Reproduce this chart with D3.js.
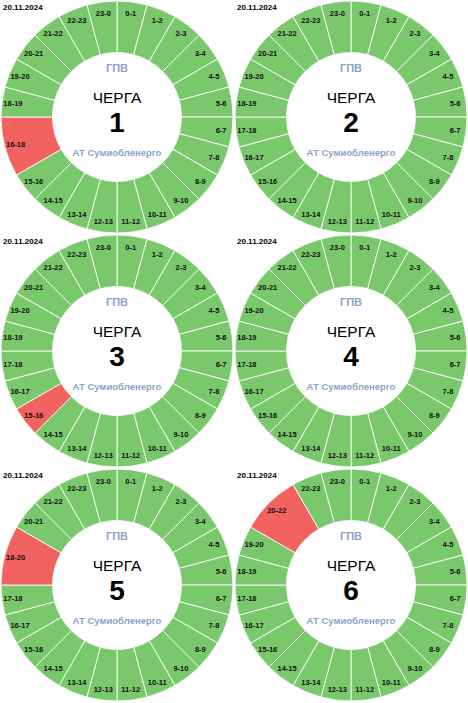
<!DOCTYPE html>
<html><head><meta charset="utf-8">
<script src="https://cdn.jsdelivr.net/npm/d3@7"></script>
<style>html,body{margin:0;padding:0;background:#fff;}svg{display:block;}</style>
</head><body>
<script>
const dateLabel = "20.11.2024";
const queues = [1, 2, 3, 4, 5, 6];
const outageStart = [16, null, 15, null, 18, 20];
const outageEnd = [18, null, 16, null, 20, 22];
const hours = d3.range(24);
const centerTop = "ГПВ";
const centerMid = "ЧЕРГА";
const centerBottom = "АТ Сумиобленерго";

const W = 468, H = 703, PW = 234, PH = 234;
const font = "'Liberation Sans', Arial, sans-serif";
const green = "#79c86b", red = "#f2625e";

function segmentsFor(i) {
  const segs = [];
  let h = 0;
  while (h < 24) {
    if (outageStart[i] !== null && h === outageStart[i]) {
      segs.push({from: h, to: outageEnd[i], off: true});
      h = outageEnd[i];
    } else {
      segs.push({from: h, to: h + 1, off: false});
      h += 1;
    }
  }
  return segs;
}

const svg = d3.select("body").append("svg").attr("width", W).attr("height", H);

const rOuter = 116, rInner = 64.5, rLabel = 105;
const pie = d3.pie().sort(null).value(d => d.to - d.from).startAngle(0).endAngle(2 * Math.PI);
const arc = d3.arc().innerRadius(rInner).outerRadius(rOuter);
const labelArc = d3.arc().innerRadius(rLabel).outerRadius(rLabel);

queues.forEach((q, i) => {
  const col = i % 2, row = Math.floor(i / 2);
  const g = svg.append("g").attr("transform", `translate(${col * PW},${row * PH})`);
  const c = g.append("g").attr("transform", `translate(117,117)`);
  const arcs = pie(segmentsFor(i));
  c.selectAll("path.seg").data(arcs).join("path")
    .attr("class", "seg")
    .attr("d", arc)
    .attr("fill", d => d.data.off ? red : green)
    .attr("stroke", "#fff").attr("stroke-opacity", 0.85).attr("stroke-width", 1);
  c.selectAll("text.lbl").data(arcs).join("text")
    .attr("class", "lbl")
    .attr("transform", d => `translate(${labelArc.centroid(d)})`)
    .attr("text-anchor", "middle").attr("dy", "0.35em")
    .attr("font-family", font).attr("font-size", 7.5).attr("font-weight", "bold")
    .attr("fill", "#111")
    .text(d => `${d.data.from}-${d.data.to % 24}`);
  c.append("text").attr("text-anchor", "middle").attr("y", -45)
    .attr("font-family", font).attr("font-size", 11).attr("font-weight", "bold")
    .attr("fill", "#8ea3c9").text(centerTop);
  c.append("text").attr("text-anchor", "middle").attr("y", -14)
    .attr("font-family", font).attr("font-size", 15.5)
    .attr("fill", "#000").text(centerMid);
  c.append("text").attr("text-anchor", "middle").attr("y", 15)
    .attr("font-family", font).attr("font-size", 28).attr("font-weight", "bold")
    .attr("fill", "#000").text(q);
  c.append("text").attr("text-anchor", "middle").attr("y", 39)
    .attr("font-family", font).attr("font-size", 9.5).attr("font-weight", "bold")
    .attr("fill", "#8ea3c9").text(centerBottom);
  g.append("text").attr("x", 3).attr("y", 10)
    .attr("font-family", font).attr("font-size", 8).attr("font-weight", "bold")
    .attr("fill", "#000").text(dateLabel);
});
</script>
</body></html>
